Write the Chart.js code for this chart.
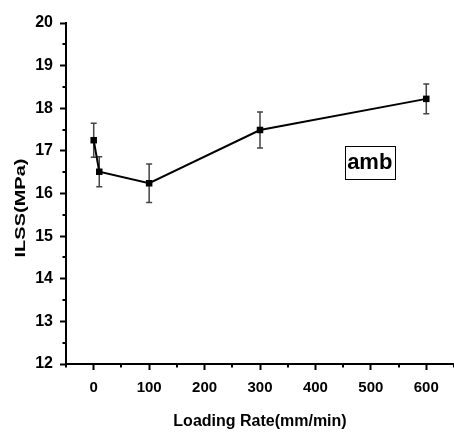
<!DOCTYPE html>
<html>
<head>
<meta charset="utf-8">
<script src="https://cdn.jsdelivr.net/npm/chart.js@4.4.0/dist/chart.umd.min.js"></script>
<style>
	body { margin: 0; background: #fff; }
	#wrap { width: 454px; height: 435px; }
</style>
</head>
<body>
<div id="wrap"><canvas id="ilss-chart" width="454" height="435"></canvas></div>
<script>
// loading rate (mm/min) vs ILSS (MPa), ambient
var rates = [0, 10, 100, 300, 600];
var ilss = [17.25, 16.51, 16.24, 17.49, 18.22];
var ilssErr = [0.40, 0.35, 0.45, 0.42, 0.35];

var xTicks = [0, 100, 200, 300, 400, 500, 600];
var yTicks = [12, 13, 14, 15, 16, 17, 18, 19, 20];

var boxLabel = 'amb';
var boxAt = [498, 16.73];

var fontFam = "'Liberation Sans', Arial, sans-serif";

// error bars + minor ticks + y title + label box
var extras = {
	id: 'extras',
	beforeDatasetsDraw(chart) {
		var c = chart.ctx, xs = chart.scales.x, ys = chart.scales.y;
		c.save();
		c.strokeStyle = '#444';
		c.lineWidth = 1.5;
		rates.forEach(function (r, i) {
			var px = xs.getPixelForValue(r);
			var top = ys.getPixelForValue(ilss[i] + ilssErr[i]);
			var bot = ys.getPixelForValue(ilss[i] - ilssErr[i]);
			c.beginPath();
			c.moveTo(px, top); c.lineTo(px, bot);
			c.moveTo(px - 3, top); c.lineTo(px + 3, top);
			c.moveTo(px - 3, bot); c.lineTo(px + 3, bot);
			c.stroke();
		});
		c.restore();
	},
	afterDraw(chart) {
		var c = chart.ctx, xs = chart.scales.x, ys = chart.scales.y;
		var area = chart.chartArea;
		c.save();
		c.strokeStyle = '#000';
		c.lineWidth = 2;
		c.beginPath();
		xs.ticks.forEach(function (t) {
			if (xTicks.indexOf(t.value) < 0) {
				var px = Math.round(xs.getPixelForValue(t.value));
				c.moveTo(px, area.bottom); c.lineTo(px, area.bottom + 3.5);
			}
		});
		ys.ticks.forEach(function (t) {
			if (yTicks.indexOf(t.value) < 0) {
				var py = Math.round(ys.getPixelForValue(t.value));
				c.moveTo(area.left, py); c.lineTo(area.left - 3.5, py);
			}
		});
		c.stroke();

		// y axis title
		c.translate(21, 208);
		c.rotate(-Math.PI / 2);
		c.scale(1.43, 1);
		c.font = "bold 14px " + fontFam;
		c.fillStyle = '#000';
		c.textAlign = 'center';
		c.textBaseline = 'middle';
		c.fillText('ILSS(MPa)', 0, 0);
		c.restore();

		// label box
		c.save();
		var bx = xs.getPixelForValue(boxAt[0]);
		var by = ys.getPixelForValue(boxAt[1]);
		c.font = "bold 22px " + fontFam;
		c.fillStyle = '#000';
		c.textAlign = 'center';
		c.textBaseline = 'middle';
		c.fillText(boxLabel, bx, by + 1);
		c.strokeStyle = '#000';
		c.lineWidth = 1;
		c.strokeRect(Math.round(bx - 25) + 0.5, Math.round(by - 16.5) + 0.5, 50, 33);
		c.restore();
	}
};

var ctx = document.getElementById('ilss-chart');

new Chart(ctx, {
	type: 'line',
	data: {
		datasets: [{
			data: rates.map(function (r, i) { return { x: r, y: ilss[i] }; }),
			borderColor: '#000',
			backgroundColor: '#000',
			borderWidth: 2,
			pointStyle: 'rect',
			pointRadius: 4.6,
			pointBorderWidth: 0,
			tension: 0,
		}],
	},
	options: {
		responsive: false,
		animation: false,
		events: [],
		layout: { autoPadding: false, padding: { top: 23, right: 0, left: 0, bottom: 0 } },
		plugins: {
			legend: { display: false },
			tooltip: { enabled: false },
		},
		scales: {
			x: {
				type: 'linear',
				min: -50,
				max: 650,
				afterFit: function (s) {
					s.height = 71;
					s.paddingLeft = 0;
					s.paddingRight = 0;
				},
				ticks: {
					stepSize: 50,
					autoSkip: false,
					maxRotation: 0,
					padding: 9,
					color: '#000',
					font: { family: fontFam, size: 15, weight: 'bold' },
					callback: function (v) { return xTicks.indexOf(v) >= 0 ? v : ''; },
				},
				grid: {
					drawOnChartArea: false,
					tickLength: 6,
					tickWidth: 2,
					tickColor: function (c) { return xTicks.indexOf(c.tick.value) >= 0 ? '#000' : 'rgba(0,0,0,0)'; },
				},
				border: { display: true, color: '#000', width: 2 },
				title: {
					display: true,
					text: 'Loading Rate(mm/min)',
					color: '#000',
					font: { family: fontFam, size: 16, weight: 'bold' },
					padding: { top: 4, bottom: 4 },
				},
			},
			y: {
				min: 12,
				max: 20,
				afterFit: function (s) {
					s.width = 66;
					s.paddingTop = 0;
					s.paddingBottom = 0;
				},
				ticks: {
					stepSize: 0.5,
					autoSkip: false,
					padding: 7,
					color: '#000',
					font: { family: fontFam, size: 16, weight: 'bold' },
					callback: function (v) { return yTicks.indexOf(v) >= 0 ? v : ''; },
				},
				grid: {
					drawOnChartArea: false,
					tickLength: 6,
					tickWidth: 2,
					tickColor: function (c) { return yTicks.indexOf(c.tick.value) >= 0 ? '#000' : 'rgba(0,0,0,0)'; },
				},
				border: { display: true, color: '#000', width: 2 },
			},
		},
	},
	plugins: [extras],
});
</script>
</body>
</html>
